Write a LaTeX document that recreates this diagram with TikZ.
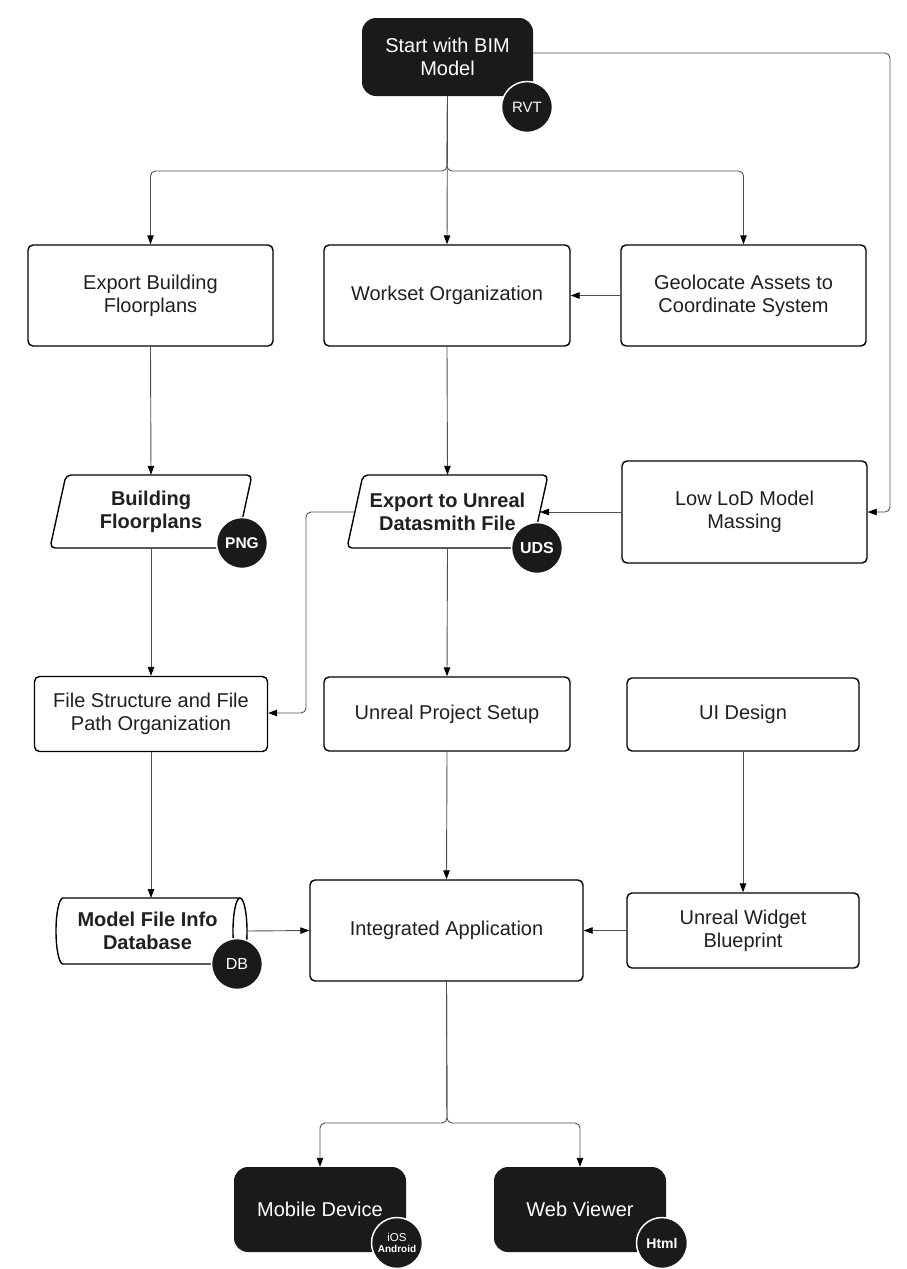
\documentclass[tikz,border=0pt]{standalone}
\usepackage{fontspec}
\setmainfont{Liberation Sans}
\usetikzlibrary{arrows.meta,calc}
\definecolor{nodeblack}{HTML}{1A1A1A}
\definecolor{linegray}{HTML}{505050}
\definecolor{txt}{HTML}{202020}
\begin{document}
\begin{tikzpicture}[x=1pt,y=1pt,
 box/.style={draw=black, line width=1.4pt, rounded corners=5pt, fill=white, align=center, text=txt, font=\fontsize{20}{23}\selectfont, inner sep=0pt},
 dark/.style={fill=nodeblack, rounded corners=14pt, align=center, text=white, font=\fontsize{20}{23}\selectfont, inner sep=0pt},
 badge/.style={circle, fill=nodeblack, draw=white, line width=1.5pt, minimum size=51pt, inner sep=0pt, text=white, align=center},
 shapeline/.style={draw=black, line width=1.4pt, rounded corners=5pt, fill=white},
 conn/.style={draw=linegray, line width=0.9pt, rounded corners=5pt},
 arr/.style={conn, -{Triangle[length=9pt,width=6.5pt,color=black]}},
 boldtext/.style={font=\fontsize{20}{23}\selectfont\bfseries, text=txt, align=center, inner sep=0pt}
]
\useasboundingbox (0,0) rectangle (907,-1269);
\fill[white] (0,0) rectangle (907,-1269);

% ---- shapes drawn by path (parallelograms, cylinder)
\path[shapeline] (66,-475) -- (252,-475) -- (236,-548) -- (50,-548) -- cycle;
\path[shapeline] (363,-475) -- (548,-475) -- (532,-548) -- (347,-548) -- cycle;
\path[draw=black, line width=1.4pt, fill=white] (240,-898) -- (63,-898) arc[start angle=90, end angle=270, x radius=7, y radius=33] -- (240,-964) arc[start angle=-90, end angle=90, x radius=7, y radius=33];
\draw[black, line width=1.4pt] (240,-898) arc[start angle=90, end angle=270, x radius=7, y radius=33];

% ---- nodes
\node[dark, minimum width=171pt, minimum height=78pt] (start) at (447.5,-57) {Start with BIM\\Model};

\node[box, minimum width=245pt, minimum height=101pt] (exfp) at (150.5,-295.5) {Export Building\\Floorplans};
\node[box, minimum width=246pt, minimum height=101pt] (workset) at (447,-295.5) {Workset Organization};
\node[box, minimum width=245pt, minimum height=101pt] (geo) at (743.5,-295.5) {Geolocate Assets to\\Coordinate System};

\node[boldtext, minimum width=202pt, minimum height=73pt] (bfp) at (151,-511.5) {Building\\Floorplans};
\node[boldtext, minimum width=201pt, minimum height=73pt] (exu) at (447.5,-511.5) {Export to Unreal\\Datasmith File};
\coordinate (exuL) at (355,-512);
\coordinate (exuR) at (540,-512);
\node[box, minimum width=245pt, minimum height=102pt] (lowlod) at (744.5,-512) {Low LoD Model\\Massing};

\node[box, minimum width=233pt, minimum height=75pt] (files) at (151,-714) {File Structure and File\\Path Organization};
\node[box, minimum width=246pt, minimum height=74pt] (ups) at (447,-714) {Unreal Project Setup};
\node[box, minimum width=232pt, minimum height=73pt] (ui) at (743,-714.5) {UI Design};

\node[boldtext, minimum width=191pt, minimum height=66pt, xshift=-4pt] (dbtext) at (151.5,-931) {Model File Info\\Database};
\coordinate (dbN) at (151,-898);
\coordinate (dbE) at (247,-931);
\node[box, minimum width=273pt, minimum height=101pt] (integ) at (446.5,-930.5) {Integrated Application};
\node[box, minimum width=232pt, minimum height=75pt] (widget) at (743,-930.5) {Unreal Widget\\Blueprint};

\node[dark, minimum width=172pt, minimum height=85pt] (mobile) at (320,-1209.5) {Mobile Device};
\node[dark, minimum width=172pt, minimum height=85pt] (web) at (580,-1209.5) {Web Viewer};

% ---- connectors
\coordinate (j1) at (447,-171);
\coordinate (j2) at (447,-1123);
\coordinate (rt) at (890,-512);
\coordinate (bend) at (306,-512);

\draw[arr] (start.south) -- (workset.north);
\draw[arr] (start.south) -- (j1) -| (exfp.north);
\draw[arr] (start.south) -- (j1) -| (geo.north);
\draw[arr] ($(start.east)+(0,4)$) -| (rt) -- (lowlod.east);
\draw[arr] (geo.west) -- (workset.east);
\draw[arr] (exfp.south) -- (bfp.north);
\draw[arr] (workset.south) -- (exu.north);
\draw[arr] (lowlod.west) -- (exuR);
\draw[arr] (exuL) -- (bend) |- ($(files.east)+(0,1)$);
\draw[arr] (bfp.south) -- (files.north);
\draw[arr] (exu.south) -- (ups.north);
\draw[arr] (files.south) -- (dbN);
\draw[arr] (ups.south) -- (integ.north);
\draw[arr] (ui.south) -- (widget.north);
\draw[arr] (dbE) -- (integ.west);
\draw[arr] (widget.west) -- (integ.east);
\draw[arr] (integ.south) -- (j2) -| (mobile.north);
\draw[arr] (integ.south) -- (j2) -| (web.north);

% ---- badges
\node[badge, font=\fontsize{15}{15}\selectfont] (rvt) at (527,-107) {RVT};
\node[badge, font=\fontsize{15.5}{15}\selectfont\bfseries] (png) at (242,-543) {PNG};
\node[badge, font=\fontsize{16}{15}\selectfont\bfseries] (uds) at (537,-548) {UDS};
\node[badge, font=\fontsize{16}{15}\selectfont] (db) at (237,-964) {DB};
\node[badge] (ios) at (397,-1243) {{\fontsize{11.5}{13}\selectfont iOS}\\[-1pt]{\fontsize{10}{12}\selectfont\bfseries Android}};
\node[badge, font=\fontsize{14}{15}\selectfont\bfseries] (html) at (662,-1243) {Html};
\end{tikzpicture}
\end{document}
